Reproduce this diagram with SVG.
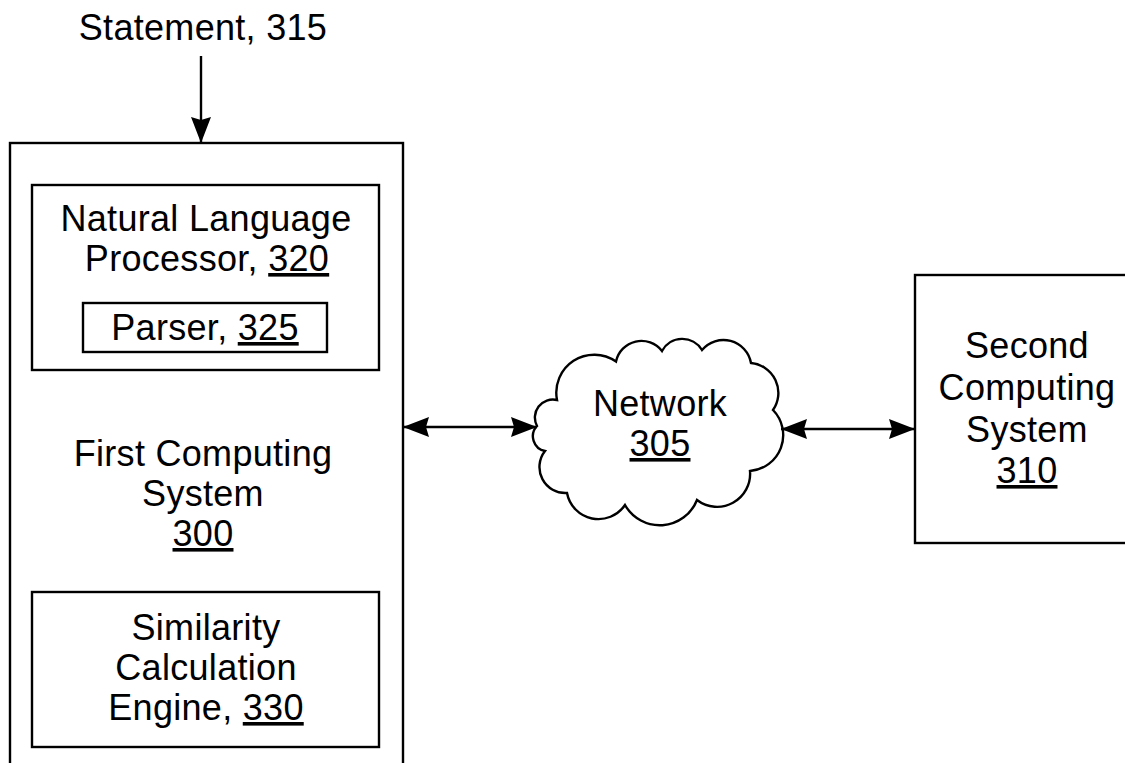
<svg xmlns="http://www.w3.org/2000/svg" width="1125" height="763" viewBox="0 0 1125 763">
<style>
.box{fill:none;stroke:#000;stroke-width:2.4}
.t{font-family:"Liberation Sans",Arial,sans-serif;font-size:36px;fill:#000;text-anchor:middle;letter-spacing:0.3px}
.u{text-decoration:underline}
.ln{stroke:#000;stroke-width:2.4;fill:none}
</style>
<defs>
<marker id="ah" viewBox="0 0 26 20" refX="26" refY="10" markerWidth="26" markerHeight="20" markerUnits="userSpaceOnUse" orient="auto-start-reverse">
<path d="M0,0 L26,10 L0,20 L3,10 Z" fill="#000"/>
</marker>
</defs>
<rect width="1125" height="763" fill="#fff"/>
<g id="statement">
<text class="t" x="203" y="40">Statement, 315</text>
</g>
<g id="first-computing-system">
<rect class="box" x="10" y="143" width="393" height="640"/>
<text class="t" x="203" y="466">First Computing</text>
<text class="t" x="203" y="506">System</text>
<text class="t u" x="203" y="546">300</text>
</g>
<g id="nlp">
<rect class="box" x="32" y="185" width="347" height="185"/>
<text class="t" x="206" y="231">Natural Language</text>
<text class="t" x="207" y="271">Processor, <tspan class="u">320</tspan></text>
</g>
<g id="parser">
<rect class="box" x="83" y="303" width="244" height="49"/>
<text class="t" x="205" y="340">Parser, <tspan class="u">325</tspan></text>
</g>
<g id="similarity">
<rect class="box" x="32" y="592" width="347" height="155"/>
<text class="t" x="206" y="640">Similarity</text>
<text class="t" x="206" y="680">Calculation</text>
<text class="t" x="206" y="720">Engine, <tspan class="u">330</tspan></text>
</g>
<g id="network">
<path class="ln" d="M537,426 A18,18 0 0 1 557,400 A38,38 0 0 1 616,361.5 A26,26 0 0 1 662,351 A23,23 0 0 1 702,350 A28,28 0 0 1 751,363 A30,30 0 0 1 773,410 A36,36 0 0 1 750,471 A33,33 0 0 1 697,500 A40,40 0 0 1 625,505 A32,32 0 0 1 567,493 A26,26 0 0 1 545,451 A15,15 0 0 1 537,426 Z"/>
<text class="t" x="660" y="416">Network</text>
<text class="t u" x="660" y="456">305</text>
</g>
<g id="second-computing-system">
<rect class="box" x="915" y="275" width="260" height="268"/>
<text class="t" x="1027" y="358">Second</text>
<text class="t" x="1027" y="400">Computing</text>
<text class="t" x="1027" y="442">System</text>
<text class="t u" x="1027" y="483">310</text>
</g>
<g id="connectors">
<line class="ln" x1="201" y1="56" x2="201" y2="143" marker-end="url(#ah)"/>
<line class="ln" x1="403" y1="427" x2="537" y2="427" marker-start="url(#ah)" marker-end="url(#ah)"/>
<line class="ln" x1="781" y1="429" x2="915" y2="429" marker-start="url(#ah)" marker-end="url(#ah)"/>
</g>
</svg>
